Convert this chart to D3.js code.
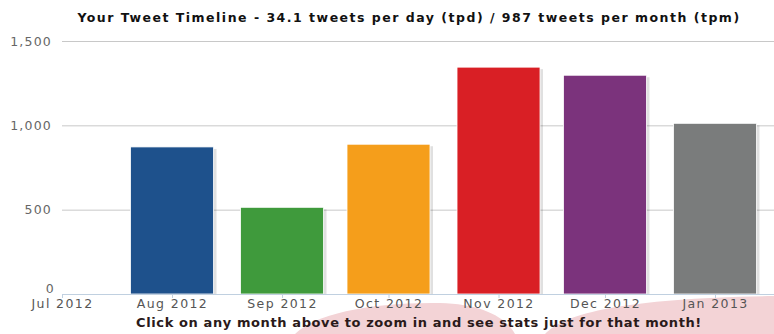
<!DOCTYPE html>
<html>
<head>
<meta charset="utf-8">
<script src="https://cdn.jsdelivr.net/npm/d3@7"></script>
<style>
  body { margin: 0; background: #fff; }
  svg { display: block; }
</style>
</head>
<body>
<div id="chart"></div>
<script>
// data
const months = ['2012-08-01', '2012-09-01', '2012-10-01', '2012-11-01', '2012-12-01', '2013-01-01'];
const tweets = [872, 514, 888, 1345, 1297, 1012];
const colors = ['#1e518c', '#3f9a3c', '#f59e1b', '#d91f25', '#7b337c', '#7a7c7c'];
const yTicks = [0, 500, 1000, 1500];
const xTicks = ['2012-07-01', '2012-08-01', '2012-09-01', '2012-10-01', '2012-11-01', '2012-12-01', '2013-01-01'];

const width = 774, height = 334;
const margin = { top: 41, right: 0, bottom: 40, left: 62 };
const parse = d3.timeParse('%Y-%m-%d');

const data = months.map((m, i) => ({ date: parse(m), value: tweets[i], color: colors[i] }));

const svg = d3.select('#chart').append('svg')
  .attr('width', width)
  .attr('height', height);

// faint pink watermark behind the footer
svg.append('path')
  .attr('d', 'M295,334C315,314 370,302 440,303C480,304 505,316 515,334Z')
  .attr('fill', '#f3d3d6');
svg.append('path')
  .attr('d', 'M545,334C565,312 630,298 774,296L774,334Z')
  .attr('fill', '#f3d3d6');

const x = d3.scaleTime()
  .domain([parse('2012-07-01'), parse('2013-01-01')])
  .range([margin.left, 715]);

const y = d3.scaleLinear()
  .domain([0, 1500])
  .range([height - margin.bottom, margin.top]);

// title
svg.append('text')
  .attr('x', 409)
  .attr('y', 22)
  .attr('text-anchor', 'middle')
  .style('font-family', 'Verdana, "DejaVu Sans", sans-serif')
  .style('font-weight', 'bold')
  .style('font-size', '12.5px')
  .style('letter-spacing', '1.5px')
  .style('fill', '#111')
  .text('Your Tweet Timeline - 34.1 tweets per day (tpd) / 987 tweets per month (tpm)');

// grid + y labels
const yAxis = svg.append('g')
  .attr('transform', `translate(${margin.left},0)`)
  .call(d3.axisLeft(y).tickValues(yTicks).tickFormat(d3.format(',')).tickSize(-(width - margin.left)).tickPadding(10));
yAxis.select('.domain').remove();
yAxis.selectAll('.tick line').attr('stroke', '#c8c8c8');
yAxis.selectAll('.tick text')
  .style('font-family', '"DejaVu Sans", Verdana, sans-serif')
  .style('font-size', '12.5px')
  .style('letter-spacing', '1.2px')
  .style('fill', '#666');
yAxis.selectAll('.tick').filter(d => d === 0).select('text').attr('dy', '-0.15em').attr('x', -7);
yAxis.selectAll('.tick').filter(d => d === 0).select('line').remove();

// bar shadows then bars
const barW = 83;
svg.append('g').selectAll('rect')
  .data(data)
  .join('rect')
  .attr('x', d => x(d.date) - barW / 2 + 3)
  .attr('y', d => y(d.value) + 2)
  .attr('width', barW)
  .attr('height', d => y(0) - y(d.value) - 2)
  .attr('fill', '#000')
  .attr('opacity', 0.12);

svg.append('g').selectAll('rect')
  .data(data)
  .join('rect')
  .attr('x', d => x(d.date) - barW / 2)
  .attr('y', d => y(d.value))
  .attr('width', barW)
  .attr('height', d => y(0) - y(d.value))
  .attr('fill', d => d.color)
  .attr('stroke', '#fff')
  .attr('stroke-width', 0.8);

// x axis
const xAxis = svg.append('g')
  .attr('transform', `translate(0,${y(0)})`)
  .call(d3.axisBottom(x).tickValues(xTicks.map(parse)).tickFormat(d3.timeFormat('%b %Y')).tickSize(4).tickPadding(1));
xAxis.select('.domain').attr('stroke', '#c0d0e0').attr('d', `M${margin.left},0.5H${width}`);
xAxis.selectAll('.tick line').attr('stroke', '#c0d0e0');
xAxis.selectAll('.tick text')
  .style('font-family', '"DejaVu Sans", Verdana, sans-serif')
  .style('font-size', '12.5px')
  .style('letter-spacing', '1.4px')
  .style('fill', '#555');

// footer
svg.append('text')
  .attr('x', 419)
  .attr('y', 327)
  .attr('text-anchor', 'middle')
  .style('font-family', 'Verdana, "DejaVu Sans", sans-serif')
  .style('font-weight', 'bold')
  .style('font-size', '13px')
  .style('letter-spacing', '0.6px')
  .style('fill', '#2a1a1a')
  .text('Click on any month above to zoom in and see stats just for that month!');
</script>
</body>
</html>
